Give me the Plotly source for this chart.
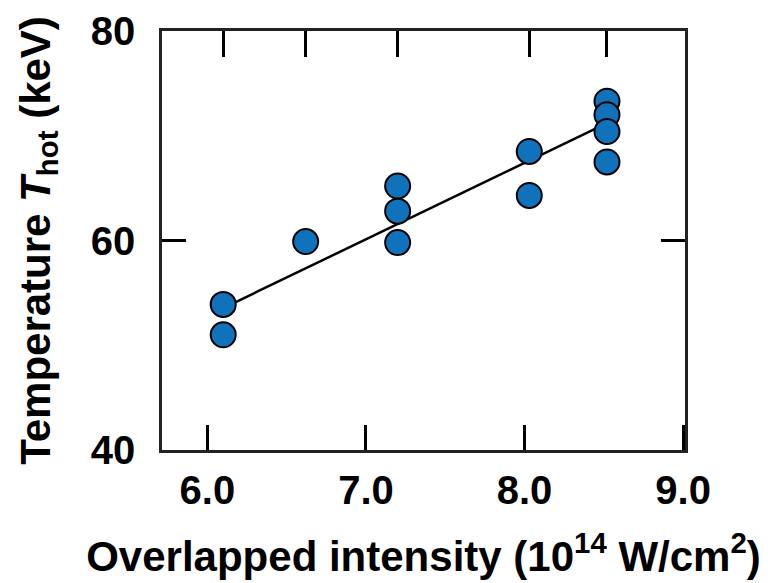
import plotly.graph_objects as go

# Data
intensity = [6.10, 6.10, 6.62, 7.20, 7.20, 7.20, 8.03, 8.03, 8.52, 8.52, 8.52, 8.52]
temperature = [53.9, 51.0, 59.9, 65.2, 62.8, 59.8, 68.5, 64.3, 73.3, 72.0, 70.4, 67.5]

fit_x = [6.10, 8.52]
fit_y = [53.55, 71.2]

shot_positions = [6.10, 6.62, 7.20, 8.03, 8.52]

x_ticks = [6.0, 7.0, 8.0, 9.0]
x_tick_labels = ["6.0", "7.0", "8.0", "9.0"]
y_ticks = [40, 60, 80]
y_tick_labels = ["40", "60", "80"]

x_range = [5.714, 9.012]
y_range = [40, 80]

FONT = "Liberation Sans, Arial, sans-serif"

fig = go.Figure()
fig.add_trace(go.Scatter(x=fit_x, y=fit_y, mode="lines",
                         line=dict(color="black", width=2.5),
                         showlegend=False, hoverinfo="skip"))
fig.add_trace(go.Scatter(x=intensity, y=temperature, mode="markers",
                         marker=dict(size=25, color="#1172BC",
                                     line=dict(color="black", width=2)),
                         showlegend=False))
# invisible trace anchoring the top axis (ticks mark the shot intensities)
fig.add_trace(go.Scatter(x=[shot_positions[0]], y=[temperature[0]], xaxis="x2",
                         mode="markers", marker=dict(opacity=0), showlegend=False,
                         hoverinfo="skip"))

# page body has an 8px default margin, so the figure is drawn 8px smaller
fig.update_layout(
    width=760, height=575,
    margin=dict(l=154, r=83, t=23, b=133),
    paper_bgcolor="white", plot_bgcolor="white",
    font=dict(family=FONT, color="black"),
    xaxis=dict(range=x_range, tickvals=x_ticks, ticktext=x_tick_labels,
               automargin=False,
               ticks="inside", ticklen=25, tickwidth=2.5, tickcolor="black",
               showline=True, linecolor="#222", linewidth=2.5, mirror=True,
               showgrid=False, zeroline=False,
               tickfont=dict(size=40, family=FONT, weight="bold"),
               ticklabelstandoff=3,
               title=dict(text="Overlapped intensity (10<sup>14</sup> W/cm<sup>2</sup>)",
                          font=dict(size=42, family=FONT, weight="bold"),
                          standoff=31)),
    xaxis2=dict(range=x_range, overlaying="x", side="top", tickvals=shot_positions,
                automargin=False,
                showticklabels=False, ticks="inside", ticklen=26, tickwidth=2.5,
                tickcolor="black", showline=False, showgrid=False, zeroline=False),
    yaxis=dict(range=y_range, tickvals=y_ticks, ticktext=y_tick_labels,
               automargin=False,
               ticks="inside", ticklen=24, tickwidth=2.5, tickcolor="black",
               showline=True, linecolor="#222", linewidth=2.5, mirror="ticks",
               showgrid=False, zeroline=False,
               tickfont=dict(size=40, family=FONT, weight="bold"),
               ticklabelstandoff=16,
               title=dict(text="Temperature <i>T</i><sub>hot</sub> (keV)",
                          font=dict(size=42, family=FONT, weight="bold"),
                          standoff=28)),
)

fig.write_html("out.html")
